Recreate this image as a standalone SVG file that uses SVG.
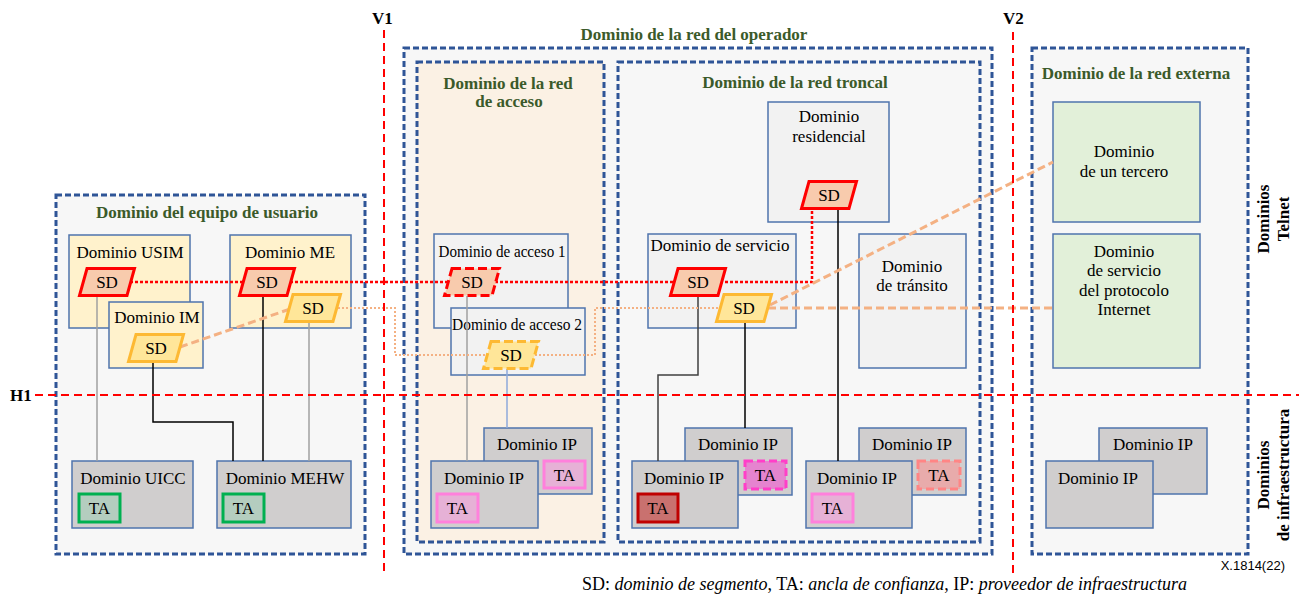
<svg xmlns="http://www.w3.org/2000/svg" xmlns:xlink="http://www.w3.org/1999/xlink" width="1299" height="597" viewBox="0 0 1299 597" font-family="'Liberation Serif', 'Times New Roman', Times, 'DejaVu Serif', serif">
<style>
text{font-family:'Liberation Serif','Times New Roman',Times,'DejaVu Serif',serif;fill:#000}
.lbl{font-size:17px;text-anchor:middle}
.ttl{font-size:17px;font-weight:bold;fill:#3b5a2a;text-anchor:middle}
.side{font-size:17px;font-weight:bold;text-anchor:middle}
.guide{font-size:17px;font-weight:bold}
.cont{fill:#f7f7f7;stroke:#2f5597;stroke-width:3;stroke-dasharray:6 3}
.acc{fill:#fbf1e4}
.box{stroke:#4f74ad;stroke-width:1.5}
.yel{fill:#fff2cc}
.lg{fill:#f2f2f2}
.ip{fill:#d0cece}
.ext{fill:#e2f0d9}
.sdR{fill:#f8cbad;stroke:#ff0000;stroke-width:3}
.sdO{fill:#ffe699;stroke:#fdb933;stroke-width:3}
.dsh{stroke-dasharray:9 4}
.taG{fill:#b4cdbf;stroke:#00b050;stroke-width:3}
.taP{fill:#e6b1d6;stroke:#ff80dc;stroke-width:3}
.taR{fill:#c9716f;stroke:#c00000;stroke-width:3}
.taM{fill:#e584cf;stroke:#ff3fc8;stroke-width:3;stroke-dasharray:8 4}
.taS{fill:#e8abab;stroke:#ff8585;stroke-width:3;stroke-dasharray:8 4}
.red{fill:none;stroke:#ff0000;stroke-width:2;stroke-dasharray:8 5}
.c{fill:none;stroke-width:1.5}
.cb{stroke:#000}
.cg{stroke:#a0a0a0}
.cd{stroke:#404040}
.cl{stroke:#8ea9db}
.rdot{fill:none;stroke:#ff0000;stroke-width:2.5;stroke-dasharray:3 2}
.odot{fill:none;stroke:#f4b183;stroke-width:2;stroke-dasharray:2 2}
.odash{fill:none;stroke:#f4b183;stroke-width:3;stroke-dasharray:8 4}
.sans{font-family:'Liberation Sans',Arial,sans-serif;font-size:13px;text-anchor:end}
</style>
<defs>
<polygon id="sd" points="-20,-13.5 27.5,-13.5 20,13.5 -27.5,13.5"/>
</defs>

<!-- containers -->
<g id="cont-usuario"><rect class="cont" x="56" y="195" width="309" height="359"/><text class="ttl" x="207" y="218">Dominio del equipo de usuario</text></g>
<g id="cont-operador"><rect class="cont" x="404" y="48" width="588" height="506"/><text class="ttl" x="694" y="40">Dominio de la red del operador</text></g>
<g id="cont-acceso"><rect class="cont acc" x="417" y="62" width="187" height="480"/><text class="ttl" x="508" y="89">Dominio de la red</text><text class="ttl" x="509" y="107">de acceso</text></g>
<g id="cont-troncal"><rect class="cont" x="618" y="62" width="362" height="480"/><text class="ttl" x="795" y="88">Dominio de la red troncal</text></g>
<g id="cont-externa"><rect class="cont" x="1032" y="48" width="216" height="506"/><text class="ttl" x="1136" y="79">Dominio de la red externa</text></g>

<!-- domain boxes -->
<g id="usim"><rect class="box yel" x="69" y="235" width="121" height="93"/><text class="lbl" x="130" y="258">Dominio USIM</text></g>
<g id="me"><rect class="box yel" x="230" y="235" width="121" height="93"/><text class="lbl" x="290" y="258">Dominio ME</text></g>
<g id="im"><rect class="box yel" x="109" y="302" width="94" height="66"/><text class="lbl" x="157" y="323">Dominio IM</text></g>
<g id="uicc"><rect class="box ip" x="72" y="461" width="121" height="67"/><text class="lbl" x="133" y="484">Dominio UICC</text></g>
<g id="mehw"><rect class="box ip" x="217" y="461" width="134" height="67"/><text class="lbl" x="285" y="484">Dominio MEHW</text></g>

<g id="acceso1"><rect class="box lg" x="434" y="234" width="134" height="94"/><text class="lbl" x="502" y="257" textLength="127" lengthAdjust="spacingAndGlyphs">Dominio de acceso 1</text></g>
<g id="acceso2"><rect class="box lg" x="451" y="308" width="134" height="67"/><text class="lbl" x="517" y="330" textLength="130" lengthAdjust="spacingAndGlyphs">Dominio de acceso 2</text></g>
<g id="ip-acc-b"><rect class="box ip" x="484" y="428" width="108" height="66"/><text class="lbl" x="537" y="450">Dominio IP</text></g>
<g id="ip-acc-f"><rect class="box ip" x="431" y="461" width="107" height="67"/><text class="lbl" x="484" y="484">Dominio IP</text></g>

<g id="residencial"><rect class="box lg" x="768" y="102" width="121" height="120"/><text class="lbl" x="829" y="122">Dominio</text><text class="lbl" x="829" y="142">residencial</text></g>
<g id="servicio"><rect class="box lg" x="648" y="234" width="148" height="94"/><text class="lbl" x="720" y="251">Dominio de servicio</text></g>
<g id="transito"><rect class="box lg" x="859" y="234" width="107" height="134"/><text class="lbl" x="912" y="272">Dominio</text><text class="lbl" x="912" y="291">de tránsito</text></g>
<g id="ip-tr1-b"><rect class="box ip" x="685" y="428" width="107" height="67"/><text class="lbl" x="738" y="450">Dominio IP</text></g>
<g id="ip-tr1-f"><rect class="box ip" x="632" y="461" width="106" height="67"/><text class="lbl" x="684" y="484">Dominio IP</text></g>
<g id="ip-tr2-b"><rect class="box ip" x="859" y="428" width="107" height="67"/><text class="lbl" x="912" y="450">Dominio IP</text></g>
<g id="ip-tr2-f"><rect class="box ip" x="806" y="461" width="106" height="67"/><text class="lbl" x="857" y="484">Dominio IP</text></g>

<g id="tercero"><rect class="box ext" x="1053" y="102" width="147" height="120"/><text class="lbl" x="1124" y="157">Dominio</text><text class="lbl" x="1124" y="177">de un tercero</text></g>
<g id="ipservicio"><rect class="box ext" x="1053" y="234" width="147" height="134"/><text class="lbl" x="1124" y="257">Dominio</text><text class="lbl" x="1124" y="276">de servicio</text><text class="lbl" x="1124" y="296">del protocolo</text><text class="lbl" x="1124" y="315">Internet</text></g>
<g id="ip-ext-b"><rect class="box ip" x="1099" y="428" width="108" height="66"/><text class="lbl" x="1153" y="450">Dominio IP</text></g>
<g id="ip-ext-f"><rect class="box ip" x="1046" y="461" width="107" height="67"/><text class="lbl" x="1098" y="484">Dominio IP</text></g>

<!-- connectors -->
<g id="connectors">
<line class="c cg" x1="97" y1="295" x2="97" y2="461"/>
<polyline class="c cb" points="153,362 153,422 233,422 233,461"/>
<line class="c cb" x1="263" y1="295" x2="263" y2="461"/>
<line class="c cg" x1="309" y1="322" x2="309" y2="461"/>
<line class="c cg" x1="467" y1="296" x2="467" y2="461"/>
<line class="c cl" x1="507" y1="369" x2="507" y2="428"/>
<polyline class="c cd" points="698,295 698,375 658,375 658,461"/>
<line class="c cb" x1="745" y1="322" x2="745" y2="428"/>
<line class="c cb" x1="838" y1="209" x2="838" y2="461"/>
<polyline class="rdot" points="120,282 812,282 812,209"/>
<polyline class="odot" points="330,308 395,308 395,355 595,355 595,308 730,308"/>
<line class="odash" x1="180" y1="347" x2="293" y2="308"/>
<line class="odash" x1="768" y1="308" x2="1053" y2="308"/>
<line class="odash" x1="770" y1="305" x2="1053" y2="162"/>
</g>

<!-- segment domains -->
<g id="sd-usim"><use xlink:href="#sd" class="sdR" x="107" y="282"/><text class="lbl" x="107" y="288">SD</text></g>
<g id="sd-me-r"><use xlink:href="#sd" class="sdR" x="267" y="282"/><text class="lbl" x="267" y="288">SD</text></g>
<g id="sd-me-o"><use xlink:href="#sd" class="sdO" x="313" y="308"/><text class="lbl" x="313" y="314">SD</text></g>
<g id="sd-im"><use xlink:href="#sd" class="sdO" x="156" y="348"/><text class="lbl" x="156" y="354">SD</text></g>
<g id="sd-acc1"><use xlink:href="#sd" class="sdR dsh" x="472" y="282"/><text class="lbl" x="472" y="288">SD</text></g>
<g id="sd-acc2"><use xlink:href="#sd" class="sdO dsh" x="511" y="355"/><text class="lbl" x="511" y="361">SD</text></g>
<g id="sd-serv-r"><use xlink:href="#sd" class="sdR" x="698" y="282"/><text class="lbl" x="698" y="288">SD</text></g>
<g id="sd-serv-o"><use xlink:href="#sd" class="sdO" x="744" y="308"/><text class="lbl" x="744" y="314">SD</text></g>
<g id="sd-res"><use xlink:href="#sd" class="sdR" x="829" y="195"/><text class="lbl" x="829" y="201">SD</text></g>

<!-- trust anchors -->
<g id="ta-uicc"><rect class="taG" x="79" y="494" width="41" height="28"/><text class="lbl" x="99.5" y="514">TA</text></g>
<g id="ta-mehw"><rect class="taG" x="223" y="494" width="41" height="28"/><text class="lbl" x="243.5" y="514">TA</text></g>
<g id="ta-acc-b"><rect class="taP" x="544" y="461" width="41" height="27"/><text class="lbl" x="564.5" y="481">TA</text></g>
<g id="ta-acc-f"><rect class="taP" x="437" y="494" width="41" height="28"/><text class="lbl" x="457.5" y="514">TA</text></g>
<g id="ta-tr1-b"><rect class="taM" x="745" y="461" width="41" height="28"/><text class="lbl" x="765.5" y="481">TA</text></g>
<g id="ta-tr1-f"><rect class="taR" x="638" y="494" width="40" height="28"/><text class="lbl" x="658" y="514">TA</text></g>
<g id="ta-tr2-b"><rect class="taS" x="918" y="461" width="42" height="28"/><text class="lbl" x="939" y="481">TA</text></g>
<g id="ta-tr2-f"><rect class="taP" x="812" y="494" width="41" height="28"/><text class="lbl" x="832.5" y="514">TA</text></g>

<!-- guide lines -->
<g id="guides">
<line class="red" x1="35" y1="395" x2="1299" y2="395"/>
<line class="red" x1="384" y1="30" x2="384" y2="575"/>
<line class="red" x1="1013" y1="32" x2="1013" y2="575"/>
<text class="guide" x="10" y="401">H1</text>
<text class="guide" x="372" y="24">V1</text>
<text class="guide" x="1003" y="24">V2</text>
</g>

<!-- side labels -->
<g id="side-telnet"><text class="side" transform="translate(1269,219) rotate(-90)">Dominios</text><text class="side" transform="translate(1289,219) rotate(-90)">Telnet</text></g>
<g id="side-infra"><text class="side" transform="translate(1269,475) rotate(-90)">Dominios</text><text class="side" transform="translate(1289,475) rotate(-90)">de infraestructura</text></g>

<text class="sans" x="1285" y="570">X.1814(22)</text>
<text x="582" y="590" font-size="18">SD: <tspan font-style="italic">dominio de segmento</tspan>, TA: <tspan font-style="italic">ancla de confianza</tspan>, IP: <tspan font-style="italic">proveedor de infraestructura</tspan></text>
</svg>
